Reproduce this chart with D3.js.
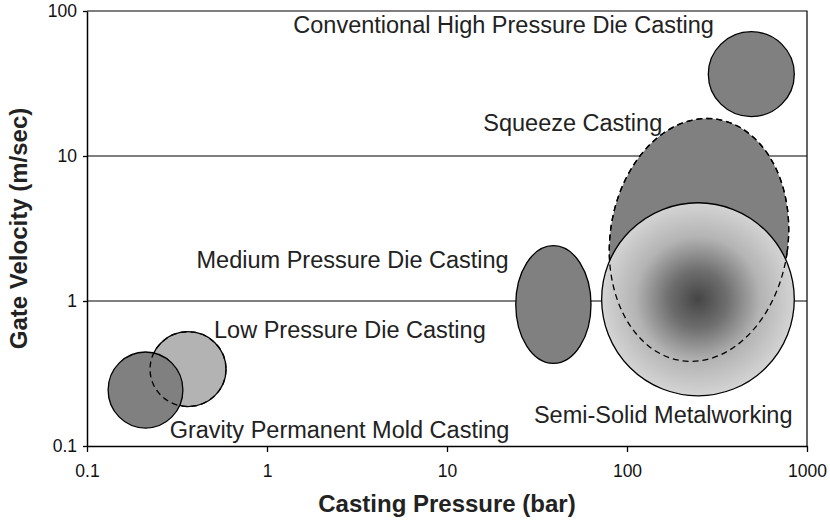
<!DOCTYPE html>
<html>
<head>
<meta charset="utf-8">
<script src="https://cdn.jsdelivr.net/npm/d3@7"></script>
<style>
  html, body { margin: 0; padding: 0; background: #fff; }
  svg { display: block; font-family: "Liberation Sans", Arial, Helvetica, sans-serif; }
</style>
</head>
<body>
<svg id="chart" width="830" height="520"></svg>
<script>
// Process windows: casting pressure (bar) vs gate velocity (m/s)
const processes = [
  "Low Pressure Die Casting",
  "Gravity Permanent Mold Casting",
  "Medium Pressure Die Casting",
  "Conventional High Pressure Die Casting",
  "Squeeze Casting",
  "Semi-Solid Metalworking"
];
const pressureMin = [0.224, 0.131, 24.1, 283, 80.5, 72.3];
const pressureMax = [0.592, 0.341, 63.1, 850, 784, 850];
const velocityMin = [0.187, 0.133, 0.371, 18.7, 0.38, 0.222];
const velocityMax = [0.614, 0.445, 2.41, 72, 18.3, 4.76];
// tilt of each window's major axis, degrees clockwise
const tilt = [0, 0, 0, 0, 8, 0];

const xTicks = [0.1, 1, 10, 100, 1000];
const xTickLabels = ["0.1", "1", "10", "100", "1000"];
const yTicks = [0.1, 1, 10, 100];
const yTickLabels = ["0.1", "1", "10", "100"];
const gridValues = [1, 10];

// label anchors (start of text, baseline) in data units
const labelPressure = [0.508, 0.288, 0.406, 1.40, 15.9, 30.4];
const labelVelocity = [0.556, 0.1135, 1.69, 70.5, 14.76, 0.144];

const svg = d3.select("#chart");
const plotLeft = 87, plotRight = 807, plotTop = 11, plotBottom = 446;

const x = d3.scaleLog().domain([0.1, 1000]).range([plotLeft, plotRight]);
const y = d3.scaleLog().domain([0.1, 100]).range([plotBottom, plotTop]);

// radial shading for the semi-solid window
const defs = svg.append("defs");
const grad = defs.append("radialGradient").attr("id", "ssmGrad")
  .attr("cx", "50%").attr("cy", "50%").attr("r", "50%");
[[0, "#454545"], [0.3, "#6e6e6e"], [0.65, "#b4b4b4"], [1, "#d4d4d4"]].forEach(([o, c]) =>
  grad.append("stop").attr("offset", o).attr("stop-color", c));

// horizontal grid lines
svg.append("g").selectAll("line").data(gridValues).join("line")
  .attr("x1", plotLeft).attr("x2", plotRight)
  .attr("y1", d => y(d)).attr("y2", d => y(d))
  .attr("stroke", "#000").attr("stroke-width", 1.2);

// frame: top and right edges
svg.append("path")
  .attr("d", `M${plotLeft},${plotTop}H${plotRight}V${plotBottom}`)
  .attr("fill", "none").attr("stroke", "#000").attr("stroke-width", 1.2);

const windows = processes.map((name, i) => {
  const x0 = x(pressureMin[i]), x1 = x(pressureMax[i]);
  const y0 = y(velocityMax[i]), y1 = y(velocityMin[i]);
  return { name, cx: (x0 + x1) / 2, cy: (y0 + y1) / 2, rx: (x1 - x0) / 2, ry: (y1 - y0) / 2, tilt: tilt[i] };
});
const byName = Object.fromEntries(windows.map(w => [w.name, w]));

const fills = {
  "Low Pressure Die Casting": "#b3b3b3",
  "Gravity Permanent Mold Casting": "#808080",
  "Medium Pressure Die Casting": "#808080",
  "Conventional High Pressure Die Casting": "#808080",
  "Squeeze Casting": "#808080",
  "Semi-Solid Metalworking": "url(#ssmGrad)"
};
const dashed = { "Squeeze Casting": true };

const shapes = svg.append("g");
function drawEllipse(w, opts) {
  return shapes.append("ellipse")
    .attr("cx", w.cx).attr("cy", w.cy).attr("rx", w.rx).attr("ry", w.ry)
    .attr("transform", w.tilt ? `rotate(${w.tilt},${w.cx},${w.cy})` : null)
    .attr("fill", opts.fill || "none")
    .attr("stroke", "#000").attr("stroke-width", 1.3)
    .attr("stroke-dasharray", opts.dash ? "6,4" : null);
}
windows.forEach(w => drawEllipse(w, { fill: fills[w.name], dash: dashed[w.name] }));
// hidden outlines shown dashed through overlapping windows
drawEllipse(byName["Low Pressure Die Casting"], { dash: true });
drawEllipse(byName["Squeeze Casting"], { dash: true });

// labels
svg.append("g").selectAll("text").data(processes).join("text")
  .attr("x", (d, i) => x(labelPressure[i]))
  .attr("y", (d, i) => y(labelVelocity[i]))
  .attr("font-size", 23.5)
  .attr("fill", "#222")
  .text(d => d);

// axes
const xAxis = svg.append("g").attr("transform", `translate(0,${plotBottom})`)
  .call(d3.axisBottom(x).tickValues(xTicks).tickSize(6).tickSizeOuter(0)
    .tickFormat((d, i) => xTickLabels[i]));
const yAxis = svg.append("g").attr("transform", `translate(${plotLeft},0)`)
  .call(d3.axisLeft(y).tickValues(yTicks).tickSize(4).tickSizeOuter(0)
    .tickFormat((d, i) => yTickLabels[i]));
[xAxis, yAxis].forEach(g => {
  g.select(".domain").attr("stroke-width", 1.5);
  g.selectAll(".tick line").attr("stroke-width", 1.3);
  g.selectAll(".tick text").attr("font-size", 17.5)
    .attr("font-family", "Liberation Sans, Arial, sans-serif").attr("fill", "#111");
});
xAxis.selectAll(".tick text").attr("y", 18.5);
yAxis.selectAll(".tick text").attr("x", -10);

// axis titles
svg.append("text")
  .attr("x", (plotLeft + plotRight) / 2).attr("y", 512)
  .attr("text-anchor", "middle").attr("font-weight", "bold").attr("font-size", 24)
  .attr("fill", "#222")
  .text("Casting Pressure (bar)");
svg.append("text")
  .attr("transform", `translate(27,${(plotTop + plotBottom) / 2}) rotate(-90)`)
  .attr("text-anchor", "middle").attr("font-weight", "bold").attr("font-size", 24)
  .attr("fill", "#222")
  .text("Gate Velocity (m/sec)");
</script>
</body>
</html>
